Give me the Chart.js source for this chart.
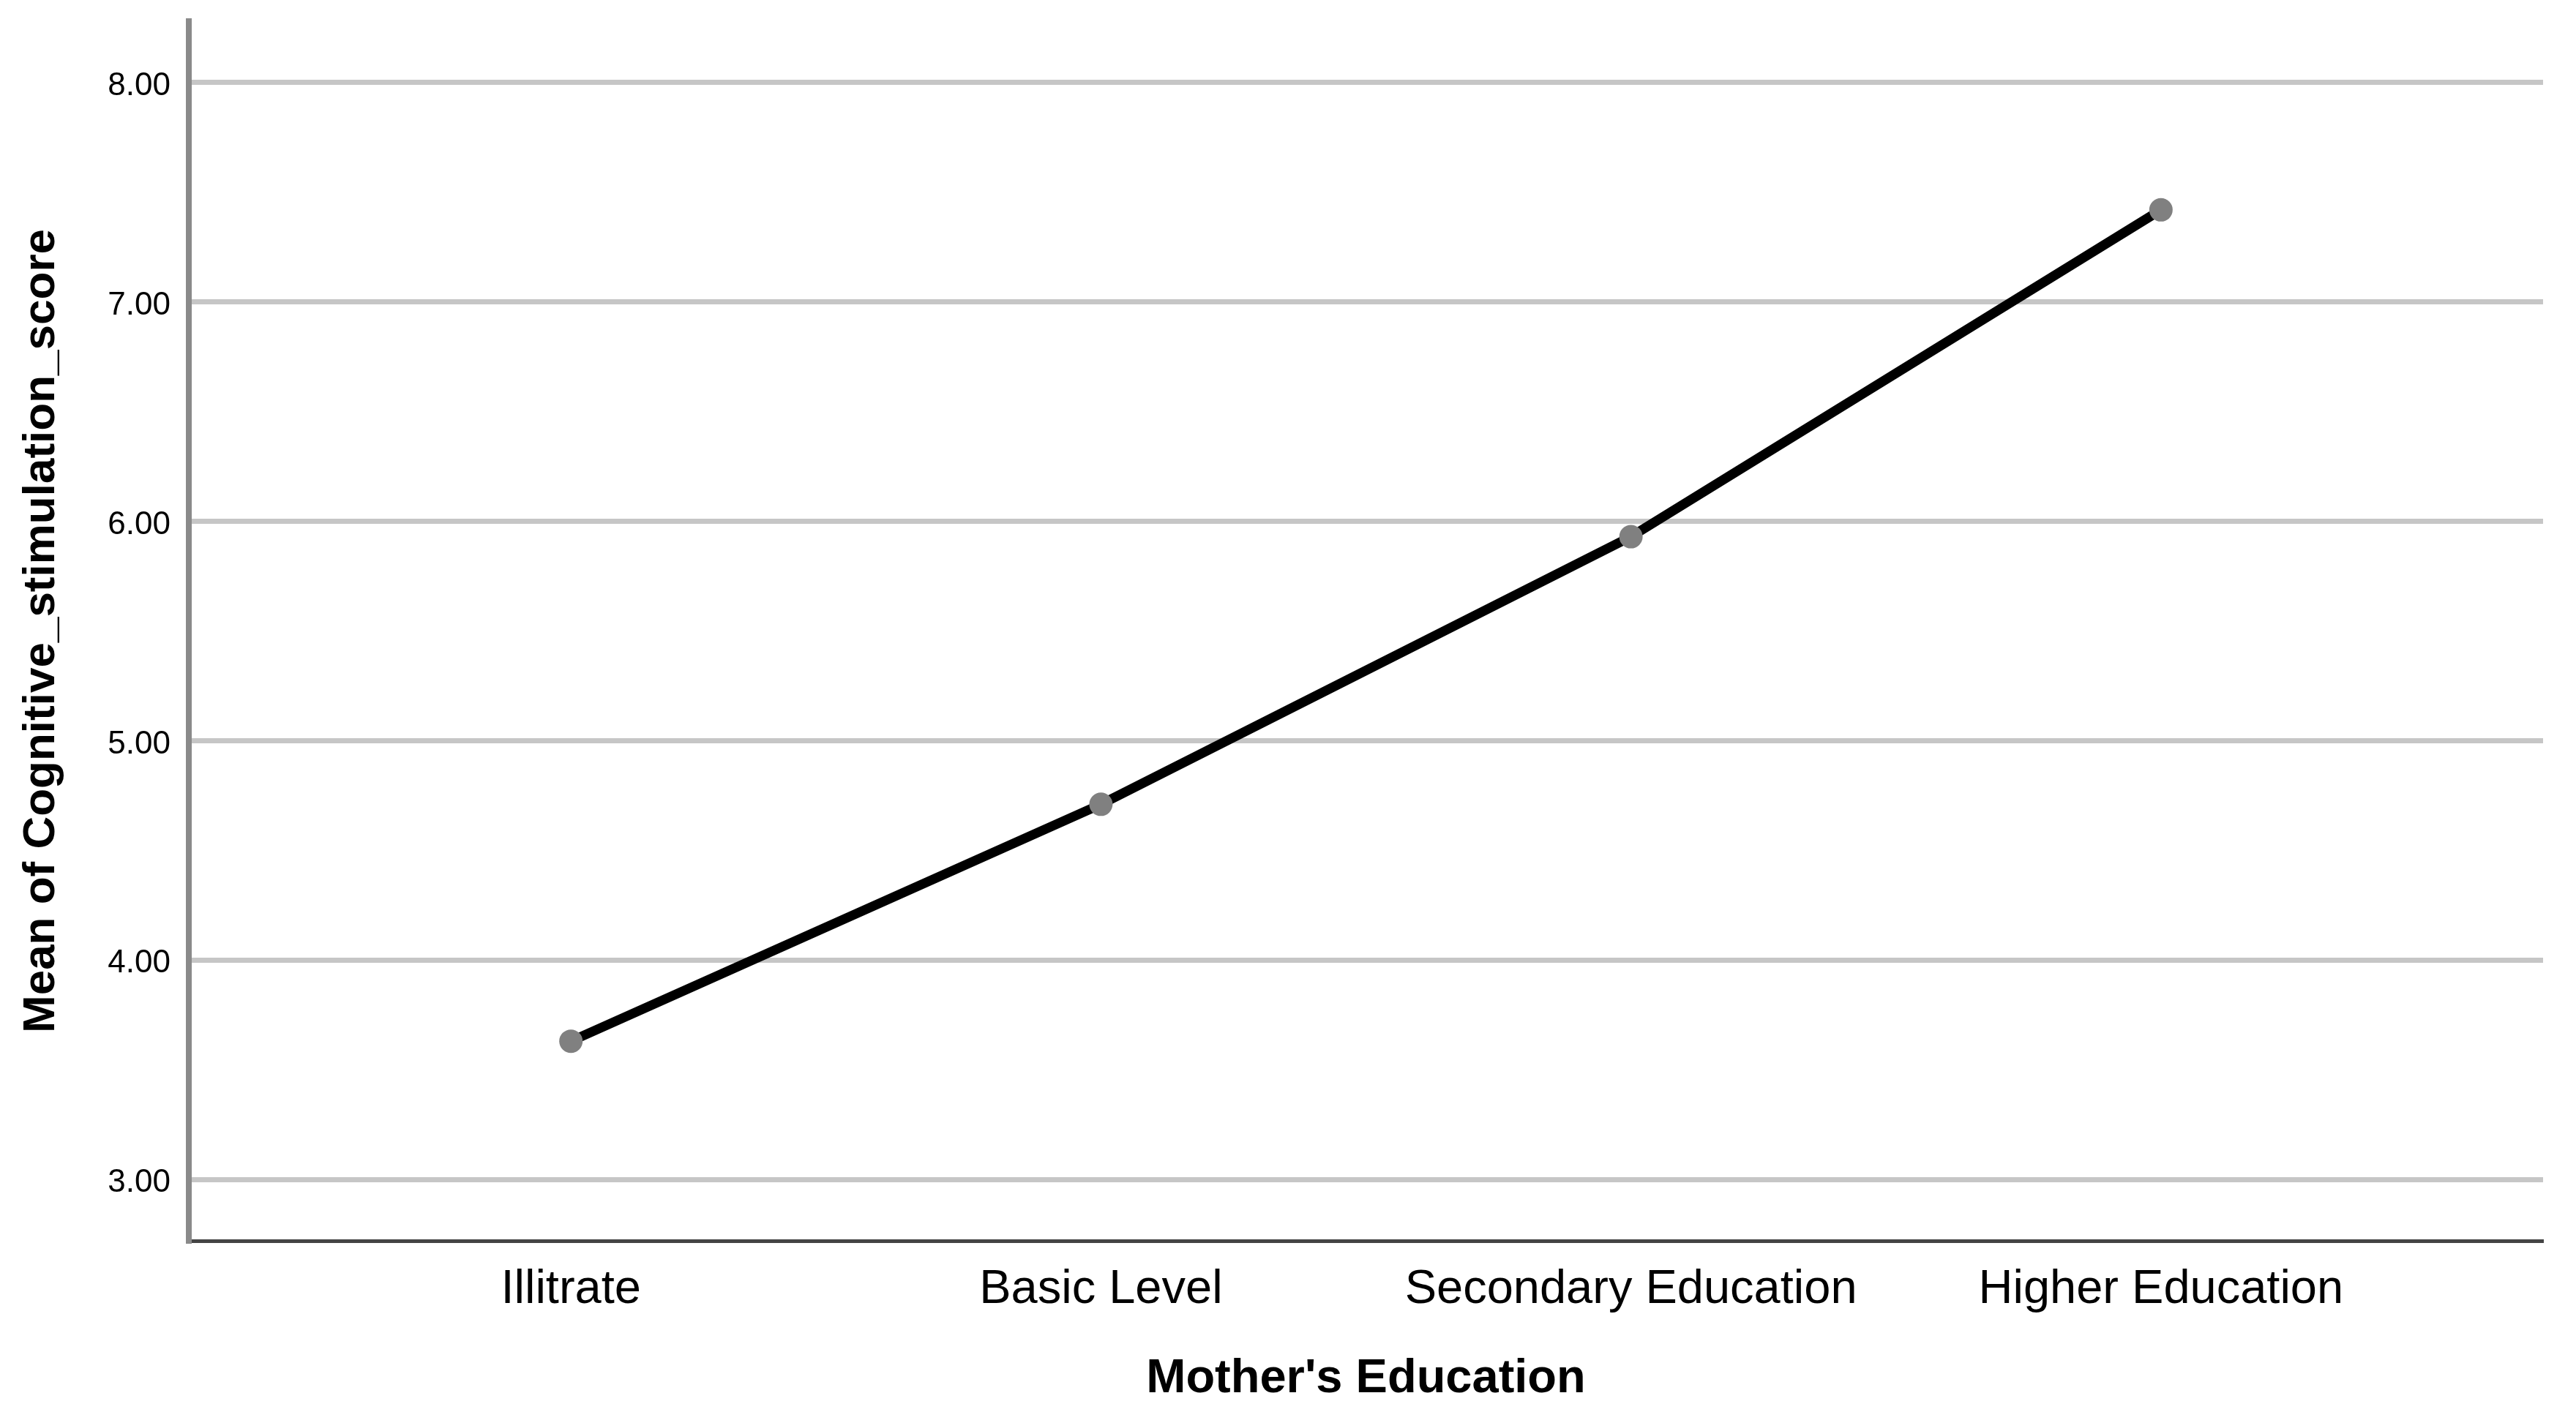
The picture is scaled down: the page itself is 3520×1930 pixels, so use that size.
<!DOCTYPE html>
<html>
<head>
<meta charset="utf-8">
<script src="https://cdn.jsdelivr.net/npm/chart.js@4.4.0/dist/chart.umd.min.js"></script>
<style>
  html, body { margin: 0; padding: 0; background: #fff; }
  #wrap { width: 3520px; height: 1930px; }
</style>
</head>
<body>
<div id="wrap"><canvas id="myChart" width="3520" height="1930"></canvas></div>
<script>
// values
var categorias = ['Illitrate', 'Basic Level', 'Secondary Education', 'Higher Education'];
var medias = [3.63, 4.71, 5.93, 7.42];
var yTicks = [3, 4, 5, 6, 7, 8];

var fonte = 'Liberation Sans, Arial, sans-serif';

document.addEventListener("DOMContentLoaded", function () {
    var pontos = [];
    categorias.forEach(function (c, i) {
        pontos.push({ x: i, y: medias[i] });
    });

    var ctx = document.getElementById('myChart').getContext('2d');
    var myChart = new Chart(ctx, {
        type: 'line',
        data: {
            datasets: [{
                data: pontos,
                borderColor: '#000000',
                borderWidth: 13,
                tension: 0,
                pointRadius: 16,
                pointBackgroundColor: '#808080',
                pointBorderWidth: 0,
                fill: false
            }]
        },
        options: {
            responsive: false,
            animation: false,
            layout: { padding: { top: 29, right: 45, left: 0, bottom: 0 } },
            plugins: {
                legend: { display: false },
                tooltip: { enabled: false }
            },
            scales: {
                x: {
                    type: 'linear',
                    min: -0.721,
                    max: 3.721,
                    afterBuildTicks: function (scale) {
                        scale.ticks = categorias.map(function (c, i) { return { value: i }; });
                    },
                    afterFit: function (scale) {
                        scale.height = 1930 - 1696;
                        scale.paddingLeft = 0;
                        scale.paddingRight = 0;
                    },
                    grid: { display: false, drawTicks: false },
                    border: { display: true, color: '#444444', width: 5 },
                    ticks: {
                        padding: 28,
                        autoSkip: false,
                        maxRotation: 0,
                        color: '#000',
                        font: { family: fonte, size: 65 },
                        callback: function (v) { return categorias[v]; }
                    },
                    title: {
                        display: true,
                        text: "Mother's Education",
                        color: '#000',
                        font: { family: fonte, size: 65, weight: 'bold' },
                        padding: { top: 0, bottom: 6 }
                    }
                },
                y: {
                    min: 2.72,
                    max: 8.28,
                    afterBuildTicks: function (scale) {
                        scale.ticks = yTicks.map(function (v) { return { value: v }; });
                    },
                    afterFit: function (scale) {
                        scale.width = 258;
                        scale.paddingTop = 0;
                        scale.paddingBottom = 0;
                    },
                    grid: { color: '#c6c6c6', lineWidth: 7, drawTicks: false },
                    border: { display: true, color: '#8a8a8a', width: 8 },
                    ticks: {
                        padding: 25,
                        labelOffset: 5,
                        color: '#000',
                        font: { family: fonte, size: 44 },
                        callback: function (v) { return v.toFixed(2); }
                    },
                    title: {
                        display: true,
                        text: 'Mean of Cognitive_stimulation_score',
                        color: '#000',
                        font: { family: fonte, size: 62, weight: 'bold' },
                        padding: { top: 20, bottom: 0 }
                    }
                }
            }
        }
    });
});
</script>
</body>
</html>
